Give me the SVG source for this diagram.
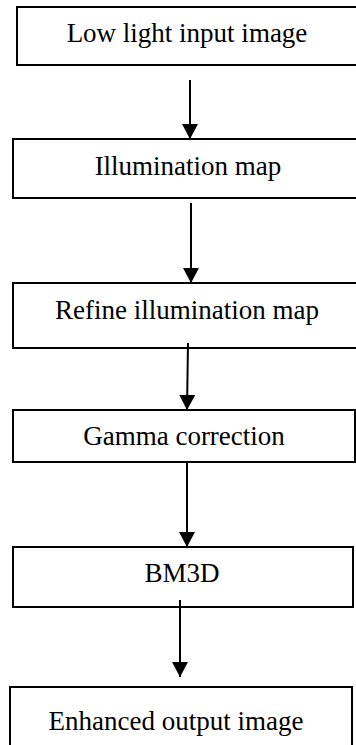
<svg xmlns="http://www.w3.org/2000/svg" width="356" height="745" viewBox="0 0 356 745">
  <style>
    .box { fill: #fff; stroke: #000; stroke-width: 2; }
    .label { font-family: "Liberation Serif", "Times New Roman", serif; font-size: 27px; fill: #000; text-anchor: middle; }
    .edge { stroke: #000; stroke-width: 2; fill: none; marker-end: url(#head); }
  </style>
  <defs>
    <!-- solid triangular arrowhead; its tip sits on the line end -->
    <marker id="head" markerUnits="userSpaceOnUse" markerWidth="15" markerHeight="16" refX="15" refY="8" orient="auto" viewBox="0 0 15 16">
      <polygon points="0,0 15,8 0,16" fill="#000"/>
    </marker>
  </defs>
  <rect width="356" height="745" fill="#fff"/>

  <!-- process steps, top to bottom -->
  <g id="low-light-input">
    <rect class="box" x="17" y="7" width="342" height="58"/>
    <text class="label" x="187" y="42">Low light input image</text>
  </g>
  <g id="illumination-map">
    <rect class="box" x="13" y="139" width="346" height="59"/>
    <text class="label" x="188" y="175">Illumination map</text>
  </g>
  <g id="refine-illumination">
    <rect class="box" x="13" y="283" width="346" height="65"/>
    <text class="label" x="187" y="319">Refine illumination map</text>
  </g>
  <g id="gamma-correction">
    <rect class="box" x="13" y="410" width="342" height="52"/>
    <text class="label" x="184" y="445">Gamma correction</text>
  </g>
  <g id="bm3d">
    <rect class="box" x="13" y="547" width="340" height="60"/>
    <text class="label" x="182" y="582">BM3D</text>
  </g>
  <g id="enhanced-output">
    <rect class="box" x="10" y="687" width="342" height="70"/>
    <text class="label" x="176" y="730">Enhanced output image</text>
  </g>

  <!-- connectors -->
  <g id="connectors">
    <line class="edge" x1="190" y1="80" x2="190" y2="139"/>
    <line class="edge" x1="191" y1="203" x2="191" y2="283"/>
    <line class="edge" x1="188" y1="343" x2="187" y2="410"/>
    <line class="edge" x1="187" y1="462" x2="187" y2="547"/>
    <line class="edge" x1="180" y1="600" x2="180" y2="677"/>
  </g>
</svg>
